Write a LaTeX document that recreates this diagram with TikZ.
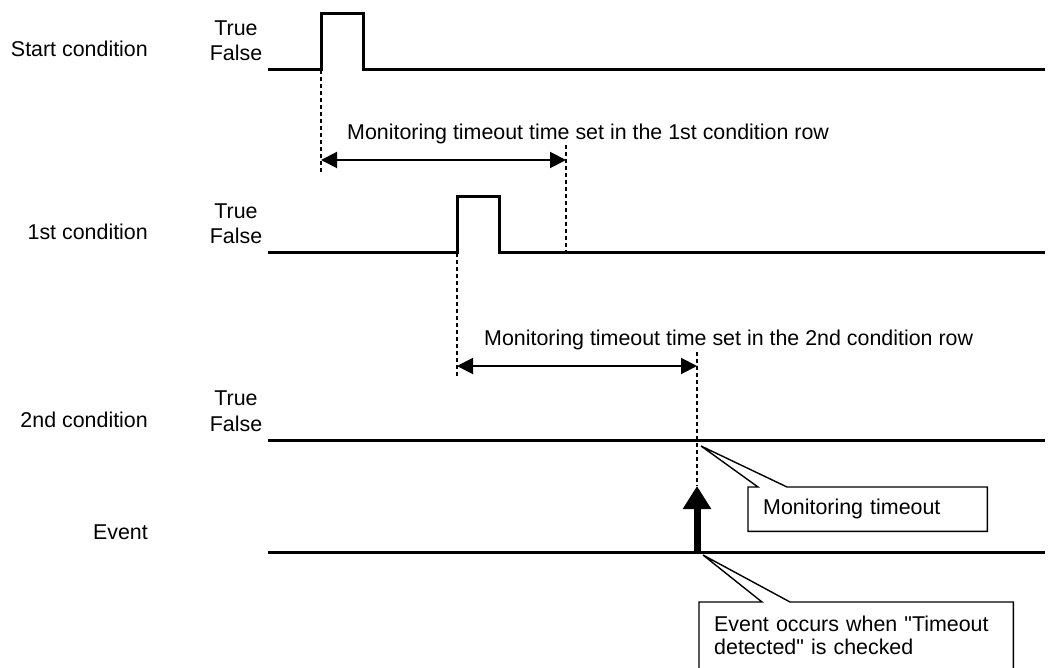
\documentclass[tikz,border=0pt]{standalone}
\usepackage{fontspec}
\setmainfont{Liberation Sans}
\usetikzlibrary{arrows.meta}

\begin{document}
\begin{tikzpicture}[x=1pt, y=-1pt,
    every node/.style={font=\fontsize{21.4}{23}\selectfont},
    rowlabel/.style={anchor=base east, inner sep=0pt},
    state/.style={anchor=base, inner sep=0pt},
    sig/.style={line width=3pt},
    guide/.style={line width=1.4pt, dash pattern=on 4pt off 3pt},
    span/.style={{Triangle[length=16pt,width=16pt]}-{Triangle[length=16pt,width=16pt]}, line width=2pt},
    event/.style={-{Triangle[length=23pt,width=27pt]}, line width=7pt},
    callout/.style={anchor=north west, align=left, inner xsep=15pt, inner ysep=0pt},
    outline/.style={line width=1.4pt}
]
\useasboundingbox (0,0) rectangle (1050,668);

% Row labels
\node[rowlabel] (start) at (148,57) {Start condition};
\node[rowlabel] (first) at (148,240) {1st condition};
\node[rowlabel] (second) at (148,427) {2nd condition};
\node[rowlabel] (event) at (148,539) {Event};

% True / False levels
\node[state] (start-t) at (236,36) {True};
\node[state] (start-f) at (236,61) {False};
\node[state] (first-t) at (236,219) {True};
\node[state] (first-f) at (236,244) {False};
\node[state] (second-t) at (236,406) {True};
\node[state] (second-f) at (236,431) {False};

% Signals
\draw[sig] (268,70) -- (321,70) -- (321,14) -- (363,14) -- (363,70) -- (1045,70);
\draw[sig] (268,253) -- (457,253) -- (457,197) -- (499,197) -- (499,253) -- (1045,253);
\draw[sig] (268,440) -- (1045,440);
\draw[sig] (268,552) -- (1045,552);

% Monitoring spans
\coordinate (a1) at (321,160);
\coordinate (b1) at (566,160);
\coordinate (a2) at (457,366);
\coordinate (b2) at (697,366);
\draw[guide] (321,70) -- (a1) -- ++(0,14);
\draw[guide] (566,145) -- (b1) -- (566,253);
\draw[guide] (457,253) -- (a2) -- ++(0,10);
\draw[guide] (697,352) -- (b2) -- (697,486);
\draw[span] (a1) -- (b1);
\draw[span] (a2) -- (b2);
\node[anchor=base west, inner sep=0pt] (span1) at (347,140) {Monitoring timeout time set in the 1st condition row};
\node[anchor=base west, inner sep=0pt] (span2) at (484,346) {Monitoring timeout time set in the 2nd condition row};

% Event
\coordinate (ev-base) at (697,552);
\coordinate (ev-tip) at (697,486);
\draw[event] (ev-base) -- (ev-tip);

% Callouts
\coordinate (tipA) at (701,446);
\coordinate (tipB) at (703,555);
\node[callout, text width=209pt, minimum height=44pt] (timeout) at (748,487) {Monitoring timeout};
\draw[outline] (timeout.north west) -- ([xshift=10pt]timeout.north west) -- (tipA)
    -- ([xshift=39pt]timeout.north west) -- (timeout.north east) -- (timeout.south east)
    -- (timeout.south west) -- cycle;
\node[callout, text width=284pt, inner ysep=14pt] (occurs) at (699,602)
    {Event occurs when \textquotedbl Timeout\\detected\textquotedbl{} is checked};
\draw[outline] ([yshift=-80pt]occurs.north west) -- (occurs.north west)
    -- ([xshift=63pt]occurs.north west) -- (tipB) -- ([xshift=91pt]occurs.north west)
    -- (occurs.north east) -- ([yshift=-80pt]occurs.north east);

\end{tikzpicture}
\end{document}
